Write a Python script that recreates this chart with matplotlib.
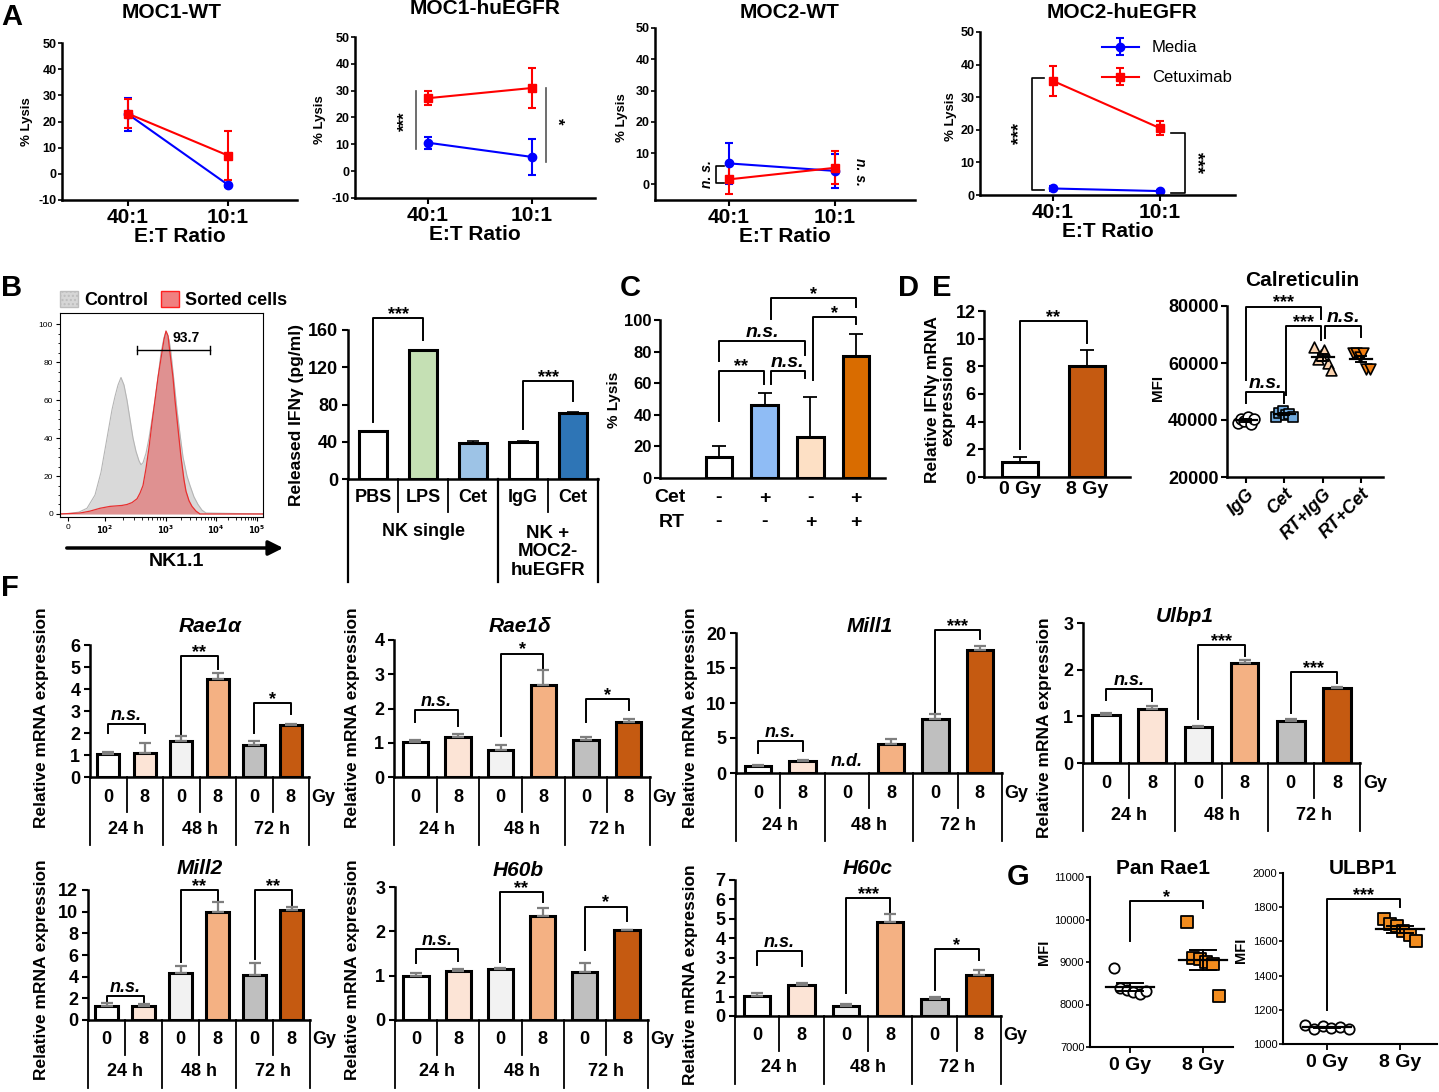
import numpy as np
import matplotlib
matplotlib.use("Agg")
import matplotlib.pyplot as plt
from matplotlib.patches import Patch

W, H = 1439, 1092
NARROW = ["Liberation Sans Narrow", "Liberation Sans", "DejaVu Sans"]
WIDE = ["Liberation Sans", "DejaVu Sans"]
plt.rcParams["font.family"] = NARROW
plt.rcParams["font.weight"] = "bold"
plt.rcParams["axes.labelweight"] = "bold"
plt.rcParams["axes.unicode_minus"] = False
plt.rcParams["axes.linewidth"] = 1.8

# ---------------- data ----------------
# A: % lysis, two E:T ratios
ratios = ["40:1", "10:1"]
a_titles = ["MOC1-WT", "MOC1-huEGFR", "MOC2-WT", "MOC2-huEGFR"]
media = [[22.8, -4.2], [10.6, 5.3], [6.7, 4.3], [2.0, 1.2]]
media_err = [[6.3, 0.8], [2.2, 6.7], [6.5, 5.5], [0.9, 0.4]]
cetux = [[23.0, 7.0], [27.2, 31.0], [1.6, 5.3], [35.0, 20.5]]
cetux_err = [[5.5, 9.2], [2.6, 7.6], [4.7, 5.3], [4.6, 2.2]]

# B: flow histogram (channel, % of max) and IFNg release
flow_tick_pos = [8, 45, 106, 156, 197]
flow_tick_lab = ["0", r"$10^2$", r"$10^3$", r"$10^4$", r"$10^5$"]
control_x = [0, 10, 19, 27, 35, 41, 47, 52, 55, 58, 61, 64, 67, 70, 73, 76, 79, 81, 83, 86, 89,
             92, 95, 98, 101, 104, 106, 109, 111, 114, 117, 120, 123, 127, 130, 134, 138, 142, 146, 203]
control_y = [0, 0.3, 1, 3, 10, 22, 40, 55, 62, 68, 72, 68, 60, 50, 40, 33, 28, 26, 27, 32, 40,
             50, 60, 72, 85, 93, 96, 92, 85, 70, 55, 42, 30, 20, 15, 9, 5, 2, 0.5, 0]
sorted_x = [0, 20, 30, 40, 50, 55, 62, 67, 72, 77, 80, 83, 86, 89, 92, 95, 98, 101, 104, 106,
            108, 110, 113, 115, 118, 121, 124, 126, 129, 132, 136, 140, 203]
sorted_y = [0, 0.5, 1.5, 3, 4, 4.2, 4.5, 5, 6, 8, 11, 15, 24, 35, 48, 60, 72, 82, 92, 96.5,
            94, 85, 72, 60, 45, 30, 18, 12, 7, 4, 1.5, 0, 0]
ifng_labels = ["PBS", "LPS", "Cet", "IgG", "Cet"]
ifng_vals = [52, 138, 39, 40, 71]
ifng_err = [0, 0, 1.8, 1.0, 1.2]
ifng_colors = ["white", "#c5e0b4", "#9dc3e6", "white", "#2e75b6"]

# C: % lysis with Cet / RT
lysis_c = [13, 46, 26, 77]
lysis_c_err = [7, 8, 25, 14]
cet_row = ["-", "+", "-", "+"]
rt_row = ["-", "-", "+", "+"]
lysis_c_colors = ["white", "#8fbcf5", "#fde0c5", "#d96c00"]

# D: IFNg mRNA
d_labels = ["0 Gy", "8 Gy"]
ifng_mrna = [1.1, 8.0]
ifng_mrna_err = [0.35, 1.2]

# E: calreticulin MFI
calr_groups = ["IgG", "Cet", "RT+IgG", "RT+Cet"]
calr_igg = [39000, 40500, 39800, 41000, 38500, 40200]
calr_cet = [41000, 42500, 43300, 41800, 42000, 41200]
calr_rtigg = [65700, 61500, 62800, 64600, 59900, 57600]
calr_rtcet = [63600, 63600, 62000, 63600, 57800, 57800]

# F: relative mRNA expression (24/48/72 h x 0/8 Gy)
gy_labels = ["0", "8", "0", "8", "0", "8"]
time_labels = ["24 h", "48 h", "72 h"]
genes = ["Rae1α", "Rae1δ", "Mill1", "Ulbp1", "Mill2", "H60b", "H60c"]
rae1a = [1.05, 1.1, 1.65, 4.45, 1.45, 2.38]
rae1a_err = [0.07, 0.45, 0.2, 0.3, 0.2, 0.03]
rae1d = [1.02, 1.17, 0.8, 2.7, 1.08, 1.6]
rae1d_err = [0.05, 0.08, 0.12, 0.42, 0.1, 0.08]
mill1 = [1.0, 1.7, None, 4.2, 7.7, 17.6]
mill1_err = [0.1, 0.2, 0, 0.7, 0.8, 0.5]
ulbp1 = [1.02, 1.15, 0.78, 2.15, 0.9, 1.6]
ulbp1_err = [0.06, 0.08, 0.02, 0.05, 0.04, 0.02]
mill2 = [1.25, 1.3, 4.3, 10.0, 4.2, 10.2]
mill2_err = [0.35, 0.2, 0.7, 0.9, 1.1, 0.25]
h60b = [1.0, 1.1, 1.15, 2.35, 1.08, 2.02]
h60b_err = [0.06, 0.05, 0.02, 0.18, 0.2, 0.01]
h60c = [1.05, 1.6, 0.5, 4.85, 0.85, 2.1]
h60c_err = [0.15, 0.12, 0.1, 0.4, 0.15, 0.25]
f_colors = ["white", "#fce4d6", "#f2f2f2", "#f4b183", "#bfbfbf", "#c55a11"]

# G: MFI after irradiation
g_labels = ["0 Gy", "8 Gy"]
panrae1_0 = [8870, 8400, 8350, 8300, 8250, 8320]
panrae1_8 = [9950, 9100, 9060, 9000, 8950, 8210]
ulbp1_0 = [1110, 1090, 1105, 1095, 1100, 1085]
ulbp1_8 = [1730, 1700, 1690, 1660, 1640, 1600]

# ---------------- helpers ----------------
fig = plt.figure(figsize=(W / 100, H / 100), dpi=100)


def box(l, t, r, b):
    ax = fig.add_axes([l / W, 1 - b / H, (r - l) / W, (b - t) / H])
    for s in ("top", "right"):
        ax.spines[s].set_visible(False)
    return ax


def ftext(x, y, s, **kw):
    kw.setdefault("ha", "center")
    kw.setdefault("va", "center")
    fig.text(x / W, 1 - y / H, s, **kw)


def sig(ax, x1, x2, y, y1, y2, label, fs=12, style="normal", lw=1.4):
    ax.plot([x1, x1, x2, x2], [y1, y, y, y2], color="k", lw=lw, clip_on=False)
    dy = -3.5 if "*" in label else 0
    ax.annotate(label, xy=((x1 + x2) / 2, y), xytext=(0, dy), textcoords="offset points",
                ha="center", va="bottom", fontsize=fs, fontstyle=style,
                annotation_clip=False)


def vline_below(ax, x, depth_px, hpx, lw=1.3):
    ax.plot([x, x], [0, -depth_px / hpx], color="k", lw=lw, clip_on=False,
            transform=ax.get_xaxis_transform())


def letter(x, y, s):
    ftext(x, y, s, fontsize=21, fontfamily=WIDE)


# ---------------- A ----------------
a_box = [(62, 43, 297, 200), (355, 37, 595, 198), (655, 28, 915, 200), (980, 32, 1235, 195)]
a_ylim = [(-10, 50), (-10, 50), (-5, 50), (0, 50)]
a_title_xy = [(172, 12), (485, 9), (790, 12), (1122, 12)]
a_ylab_xy = [(27, 122), (320, 120), (622, 118), (951, 117)]
a_cat_x = [(128, 228), (428, 532), (729, 835), (1053, 1160)]
a_axes = []
for k in range(4):
    l, t, r, b = a_box[k]
    ax = box(l, t, r, b)
    x0, x1 = a_cat_x[k]
    u = x1 - x0
    ax.set_xlim((l - x0) / u, (r - x0) / u)
    ax.set_ylim(*a_ylim[k])
    ax.set_yticks(range(-10 if k < 2 else 0, 51, 10))
    ax.errorbar([0, 1], media[k], yerr=media_err[k], color="#0000ff", marker="o", ms=6,
                lw=1.5, capsize=3, capthick=1.5, label="Media")
    ax.errorbar([0, 1], cetux[k], yerr=cetux_err[k], color="#ff0000", marker="s", ms=6,
                lw=1.5, capsize=3, capthick=1.5, label="Cetuximab")
    ax.set_xticks([0, 1], ratios)
    ax.tick_params(axis="x", length=4, width=1.5, labelsize=15, pad=2)
    ax.tick_params(axis="y", length=3, width=1.2, labelsize=9, pad=1)
    ax.set_xlabel("E:T Ratio", fontsize=15, labelpad=0)
    ftext(*a_title_xy[k], a_titles[k], fontsize=15)
    ftext(*a_ylab_xy[k], "% Lysis", fontsize=9.5, rotation=90, fontfamily=WIDE)
    a_axes.append(ax)

ax = a_axes[1]
ax.plot([-0.12, -0.12], [8.4, 29.9], color="#555", lw=1.2)
ax.text(-0.22, 18.5, "***", rotation=90, ha="center", va="center", fontsize=12)
ax.plot([1.13, 1.13], [3.4, 31.0], color="#555", lw=1.2)
ax.text(1.24, 18.5, "*", rotation=270, ha="center", va="center", fontsize=12)
ax = a_axes[2]
ax.plot([-0.05, -0.12, -0.12, -0.05], [0.5, 0.5, 5.8, 5.8], color="k", lw=1.2)
ax.text(-0.21, 3.2, "n. s.", rotation=90, ha="center", va="center", fontsize=10, fontstyle="italic")
ax.text(1.24, 4.0, "n. s.", rotation=270, ha="center", va="center", fontsize=10, fontstyle="italic")
ax = a_axes[3]
ax.plot([-0.08, -0.2, -0.2, -0.08], [1.5, 1.5, 35.8, 35.8], color="k", lw=1.2)
ax.text(-0.31, 18.9, "***", rotation=90, ha="center", va="center", fontsize=13)
ax.plot([1.1, 1.23, 1.23, 1.1], [0.7, 0.7, 19.0, 19.0], color="k", lw=1.2)
ax.text(1.34, 10.0, "***", rotation=270, ha="center", va="center", fontsize=13)
ax.legend(loc="upper left", bbox_to_anchor=(0.42, 1.04), frameon=False, labelspacing=0.9,
          handlelength=2.2, prop={"family": NARROW, "weight": "normal", "size": 12})
letter(12, 17, "A")

# ---------------- B ----------------
letter(12, 288, "B")
ax = fig.add_axes([60 / W, 1 - 517 / H, 203 / W, 204 / H])
for s in ax.spines.values():
    s.set_linewidth(0.8)
ax.fill_between(control_x, control_y, color="#d9d9d9", lw=0)
ax.plot(control_x, control_y, color="#b5b5b5", lw=0.8)
ax.fill_between(sorted_x, sorted_y, color="#e08a8a", alpha=0.9, lw=0)
ax.plot(sorted_x, sorted_y, color="#e83030", lw=0.9)
ax.set_xlim(0, 203)
ax.set_ylim(-1.6, 106)
ax.set_xticks(flow_tick_pos, flow_tick_lab)
minor = []
for p0, p1 in zip(flow_tick_pos[1:-1], flow_tick_pos[2:]):
    minor += [p0 + np.log10(m) * (p1 - p0) for m in range(2, 10)]
ax.set_xticks(minor, minor=True)
ax.set_yticks(range(0, 101, 20))
ax.set_yticks(range(0, 101, 5), minor=True)
ax.tick_params(labelsize=6, length=3, width=0.8, pad=2)
ax.tick_params(which="minor", length=1.8, width=0.6)
for lab in ax.get_xticklabels() + ax.get_yticklabels():
    lab.set_fontweight("normal")
ax.plot([77, 150], [86.5, 86.5], color="k", lw=1)
ax.plot([77, 77], [84.5, 88.5], color="k", lw=1)
ax.plot([150, 150], [84.5, 88.5], color="k", lw=1)
ax.text(126, 89, "93.7", ha="center", va="bottom", fontsize=10)
ax.legend(handles=[Patch(facecolor="#d6d6d6", edgecolor="#bdbdbd", hatch="...."),
                   Patch(facecolor="#f08080", edgecolor="#ff2020")],
          labels=["Control", "Sorted cells"], loc="center left",
          bbox_to_anchor=(0.0, 1.065), ncol=2, frameon=False, handlelength=1.0,
          handleheight=1.0, handletextpad=0.35, columnspacing=0.7, borderaxespad=0,
          borderpad=0, prop={"family": NARROW, "weight": "bold", "size": 13})
ax.annotate("", xy=(286 / W, 1 - 548 / H), xytext=(64 / W, 1 - 548 / H),
            xycoords="figure fraction", textcoords="figure fraction",
            arrowprops=dict(arrowstyle="-|>", lw=2.5, color="k", mutation_scale=22))
ftext(176, 562, "NK1.1", fontsize=14)

ax = box(348, 330, 598, 479)
hpx = 149
x = np.arange(5)
ax.bar(x, ifng_vals, width=0.55, color=ifng_colors, edgecolor="k", lw=2.2, zorder=2)
ax.errorbar(x, ifng_vals, yerr=[np.zeros(5), ifng_err], fmt="none", ecolor="k",
            elinewidth=1.2, capsize=4, capthick=1.2, zorder=3)
ax.set_xlim(-0.5, 4.5)
ax.set_ylim(0, 160)
ax.set_yticks(range(0, 161, 40))
ax.set_xticks([])
ax.tick_params(axis="y", length=4, width=1.5, labelsize=13, pad=3)
tr = ax.get_xaxis_transform()
for i, lab in enumerate(ifng_labels):
    ax.text(i, -18 / hpx, lab, transform=tr, ha="center", va="center", fontsize=13)
for xs in [0.5, 1.5, 3.5]:
    vline_below(ax, xs, 33, hpx)
for xs in [-0.5, 2.5, 4.5]:
    vline_below(ax, xs, 103, hpx, lw=1.6)
ax.text(1.0, -52 / hpx, "NK single", transform=tr, ha="center", va="center", fontsize=13)
ax.text(3.5, -73 / hpx, "NK +\nMOC2-\nhuEGFR", transform=tr, ha="center", va="center",
        fontsize=13.5, linespacing=1.1)
sig(ax, 0, 1, 173, 61, 149, "***", fs=13)
sig(ax, 3, 4, 105, 53.5, 84, "***", fs=13)
ftext(296, 415, "Released IFNγ (pg/ml)", fontsize=12.5, rotation=90, fontfamily=WIDE)

# ---------------- C ----------------
letter(630, 288, "C")
ax = box(660, 320, 885, 478)
hpx = 158
step = 45.7
ax.set_xlim((660 - 719) / step, (885 - 719) / step)
x = np.arange(4)
ax.bar(x, lysis_c, width=0.58, color=lysis_c_colors, edgecolor="k", lw=2.2, zorder=2)
ax.errorbar(x, lysis_c, yerr=[np.zeros(4), lysis_c_err], fmt="none", ecolor="k",
            elinewidth=1.3, capsize=5, capthick=1.3, zorder=1)
ax.set_ylim(0, 100)
ax.set_yticks(range(0, 101, 20))
ax.set_xticks([])
ax.tick_params(axis="y", length=4, width=1.5, labelsize=12, pad=2)
tr = ax.get_xaxis_transform()
for i in range(4):
    ax.text(i, -20 / hpx, cet_row[i], transform=tr, ha="center", va="center", fontsize=14)
    ax.text(i, -44 / hpx, rt_row[i], transform=tr, ha="center", va="center", fontsize=14)
ftext(670, 498, "Cet", fontsize=14)
ftext(672, 522, "RT", fontsize=14)
ftext(614, 400, "% Lysis", fontsize=11, rotation=90, fontfamily=WIDE)
sig(ax, 0, 0.98, 68, 36, 59.5, "**", fs=13)
sig(ax, 1.13, 1.88, 68, 59.5, 63, "n.s.", fs=14, style="italic")
sig(ax, 0, 1.88, 87, 74, 78, "n.s.", fs=14, style="italic")
sig(ax, 2.06, 3, 102, 62, 97.5, "*", fs=13)
sig(ax, 1.13, 3, 114, 100.6, 108, "*", fs=13)

# ---------------- D ----------------
letter(908, 288, "D")
ax = box(984, 311, 1130, 477)
step = 67
ax.set_xlim((984 - 1020) / step, (1130 - 1020) / step)
x = np.arange(2)
ax.bar(x, ifng_mrna, width=0.55, color=["white", "#c55a11"], edgecolor="k", lw=2.2, zorder=2)
ax.errorbar(x, ifng_mrna, yerr=[np.zeros(2), ifng_mrna_err], fmt="none", ecolor="k",
            elinewidth=1.3, capsize=5, capthick=1.3, zorder=1)
ax.set_ylim(0, 12)
ax.set_yticks(range(0, 13, 2))
ax.set_xticks(x, d_labels)
ax.tick_params(axis="y", length=4, width=1.5, labelsize=13, pad=2)
ax.tick_params(axis="x", length=0, labelsize=14, pad=3)
ftext(940, 400, "Relative IFNγ mRNA\nexpression", fontsize=12.5, rotation=90,
      fontfamily=WIDE, linespacing=1.0)
sig(ax, 0, 1, 11.26, 2.0, 9.7, "**", fs=13)

# ---------------- E ----------------
letter(942, 288, "E")
ax = box(1227, 306, 1383, 477)
step = 38.4
ax.set_xlim((1227 - 1246) / step, (1383 - 1246) / step)
ax.set_ylim(20000, 80000)
ax.set_yticks(range(20000, 80001, 20000))
ax.tick_params(axis="y", length=4, width=1.5, labelsize=13, pad=2)
e_sets = [calr_igg, calr_cet, calr_rtigg, calr_rtcet]
e_marks = ["o", "s", "^", "v"]
e_face = ["white", "#6fa8dc", "#fbd3b0", "#f07e12"]
for i, vals in enumerate(e_sets):
    off = np.linspace(-0.22, 0.22, len(vals))
    ax.scatter(i + off, vals, marker=e_marks[i], s=60, facecolor=e_face[i],
               edgecolor="k", linewidth=1.2, zorder=3)
    m = np.mean(vals)
    se = np.std(vals, ddof=1) / np.sqrt(len(vals))
    ax.plot([i - 0.28, i + 0.28], [m, m], color="k", lw=1.6, zorder=4)
    ax.plot([i, i], [m - se, m + se], color="k", lw=1.4, zorder=4)
    ax.plot([i - 0.13, i + 0.13], [m + se, m + se], color="k", lw=1.4, zorder=4)
    ax.plot([i - 0.13, i + 0.13], [m - se, m - se], color="k", lw=1.4, zorder=4)
ax.set_xticks(range(4), calr_groups)
ax.tick_params(axis="x", length=4, width=1.5, labelsize=13, pad=2)
for lab in ax.get_xticklabels():
    lab.set_rotation(45)
    lab.set_ha("right")
    lab.set_rotation_mode("anchor")
    lab.set_fontstyle("italic")
sig(ax, 0, 1, 50000, 45900, 45900, "n.s.", fs=14, style="italic")
sig(ax, 0, 1.96, 79800, 53900, 75500, "***", fs=13)
sig(ax, 1.03, 1.96, 73000, 48600, 68200, "***", fs=13)
sig(ax, 2.06, 3.0, 73000, 68700, 69000, "n.s.", fs=14, style="italic")
ftext(1302, 280, "Calreticulin", fontsize=15)
ftext(1158, 388, "MFI", fontsize=11, rotation=90, fontfamily=WIDE)

# ---------------- F ----------------
letter(10, 588, "F")
f_vals = [rae1a, rae1d, mill1, ulbp1, mill2, h60b, h60c]
f_errs = [rae1a_err, rae1d_err, mill1_err, ulbp1_err, mill2_err, h60b_err, h60c_err]
f_box = [(90, 645, 309, 777), (394, 640, 650, 777), (736, 633, 1002, 773),
         (1083, 623, 1360, 763), (88, 890, 310, 1020), (395, 887, 648, 1020),
         (735, 880, 1001, 1016)]
f_ymax = [6, 4, 20, 3, 12, 3, 7]
f_ystep = [1, 1, 5, 1, 2, 1, 1]
f_title_xy = [(210, 627), (520, 627), (870, 627), (1185, 617), (200, 868), (518, 870),
              (868, 868)]
f_ylab_xy = [(42, 718), (352, 718), (690, 718), (1045, 728), (42, 970), (352, 970),
             (690, 975)]
f_sig = [
    [(0, 1, 2.4, 2.0, 2.0, "n.s."), (2, 3, 5.5, 1.95, 4.9, "**"), (4, 5, 3.35, 2.0, 2.85, "*")],
    [(0, 1, 1.95, 1.6, 1.5, "n.s."), (2, 3, 3.6, 1.2, 3.12, "*"), (4, 5, 2.27, 1.6, 1.97, "*")],
    [(0, 1, 4.6, 2.8, 3.1, "n.s."), (4, 5, 20.4, 8.5, 19.2, "***")],
    [(0, 1, 1.59, 1.36, 1.33, "n.s."), (2, 3, 2.52, 0.94, 2.29, "***"),
     (4, 5, 1.95, 1.08, 1.72, "***")],
    [(0, 1, 2.25, 1.75, 1.55, "n.s."), (2, 3, 12.0, 5.4, 11.0, "**"),
     (4, 5, 12.0, 5.6, 10.6, "**")],
    [(0, 1, 1.61, 1.29, 1.33, "n.s."), (2, 3, 2.89, 1.31, 2.66, "**"),
     (4, 5, 2.56, 1.57, 2.24, "*")],
    [(0, 1, 3.35, 2.65, 2.55, "n.s."), (2, 3, 6.06, 1.16, 5.35, "***"),
     (4, 5, 3.46, 1.33, 2.87, "*")],
]
for k in range(7):
    l, t, r, b = f_box[k]
    hpx = b - t
    ax = box(l, t, r, b)
    vals = f_vals[k]
    xs = [i for i in range(6) if vals[i] is not None]
    hv = [vals[i] for i in xs]
    ax.bar(xs, hv, width=0.6, color=[f_colors[i] for i in xs], edgecolor="k", lw=2.2, zorder=2)
    ax.errorbar(xs, hv, yerr=[np.zeros(len(xs)), [f_errs[k][i] for i in xs]], fmt="none",
                ecolor="#7f7f7f", elinewidth=1.6, capsize=4, capthick=1.6, zorder=3)
    ax.set_xlim(-0.5, 5.5)
    ax.set_ylim(0, f_ymax[k])
    ax.set_yticks(range(0, f_ymax[k] + 1, f_ystep[k]))
    ax.set_xticks([])
    ax.tick_params(axis="y", length=4, width=1.5, labelsize=13, pad=3)
    for lab in ax.get_yticklabels():
        lab.set_fontfamily(WIDE)
    tr = ax.get_xaxis_transform()
    for i in range(6):
        ax.text(i, -20 / hpx, gy_labels[i], transform=tr, ha="center", va="center", fontsize=13)
    for j in range(3):
        ax.text(2 * j + 0.5, -52 / hpx, time_labels[j], transform=tr, ha="center",
                va="center", fontsize=13)
    ax.text(5.56, -20 / hpx, "Gy", transform=tr, ha="left", va="center", fontsize=13)
    for xsb in [0.5, 2.5, 4.5]:
        vline_below(ax, xsb, 35, hpx)
    for xsb in [-0.5, 1.5, 3.5, 5.5]:
        vline_below(ax, xsb, 68, hpx)
    for (i, j, y, y1, y2, s) in f_sig[k]:
        if s == "n.s.":
            sig(ax, i, j, y, y1, y2, s, fs=13, style="italic")
        else:
            sig(ax, i, j, y, y1, y2, s, fs=13)
    if vals[2] is None:
        ax.text(2, 0.1 * f_ymax[k] / 4, "n.d.", ha="center", va="bottom", fontsize=13,
                fontstyle="italic")
    ftext(*f_title_xy[k], genes[k], fontsize=15, fontstyle="italic", fontfamily=WIDE)
    ftext(*f_ylab_xy[k], "Relative mRNA expression", fontsize=12.5, rotation=90,
          fontfamily=WIDE)

# ---------------- G ----------------
letter(1018, 877, "G")
g_box = [(1090, 877, 1233, 1047), (1283, 873, 1437, 1044)]
g_cat_x = [(1130, 1203), (1327, 1400)]
g_sets = [[panrae1_0, panrae1_8], [ulbp1_0, ulbp1_8]]
g_titles = ["Pan Rae1", "ULBP1"]
g_title_xy = [(1163, 869), (1363, 869)]
g_mfi_xy = [(1044, 952), (1241, 950)]
g_ylim = [(7000, 11000, 1000), (1000, 2000, 200)]
g_sig = [(10440, 9500, 10260, "*"), (1848, 1200, 1801, "***")]
for k in range(2):
    l, t, r, b = g_box[k]
    ax = box(l, t, r, b)
    for s in ax.spines.values():
        s.set_linewidth(1.5)
    x0, x1 = g_cat_x[k]
    u = x1 - x0
    ax.set_xlim((l - x0) / u, (r - x0) / u)
    lo, hi, st = g_ylim[k]
    ax.set_ylim(lo, hi)
    ax.set_yticks(range(lo, hi + 1, st))
    for i, vals in enumerate(g_sets[k]):
        spread = 0.3 if (k == 1 and i == 0) else 0.22
        off = np.linspace(-spread, spread, len(vals))
        if i == 0:
            ax.scatter(i + off, vals, marker="o", s=55, facecolor="white", edgecolor="k",
                       linewidth=1.3, zorder=3)
        else:
            ax.scatter(i + off, vals, marker="s", s=70, facecolor="#f28c1e", edgecolor="k",
                       linewidth=1.3, zorder=3)
        m = np.mean(vals)
        se = np.std(vals, ddof=1) / np.sqrt(len(vals))
        ax.plot([i - 0.33, i + 0.33], [m, m], color="k", lw=1.6, zorder=4)
        ax.plot([i, i], [m - se, m + se], color="k", lw=1.4, zorder=4)
        ax.plot([i - 0.18, i + 0.18], [m + se, m + se], color="k", lw=1.4, zorder=4)
        ax.plot([i - 0.18, i + 0.18], [m - se, m - se], color="k", lw=1.4, zorder=4)
    ax.set_xticks([0, 1], g_labels)
    ax.tick_params(axis="x", length=4, width=1.3, labelsize=14, pad=3)
    ax.tick_params(axis="y", length=3, width=1.2, labelsize=8, pad=1)
    for lab in ax.get_yticklabels():
        lab.set_fontweight("normal")
    y, y1, y2, s = g_sig[k]
    sig(ax, 0, 1, y, y1, y2, s, fs=13)
    ftext(*g_title_xy[k], g_titles[k], fontsize=15)
    ftext(*g_mfi_xy[k], "MFI", fontsize=10.5, rotation=90, fontfamily=WIDE)

fig.savefig("out.png", dpi=100)
